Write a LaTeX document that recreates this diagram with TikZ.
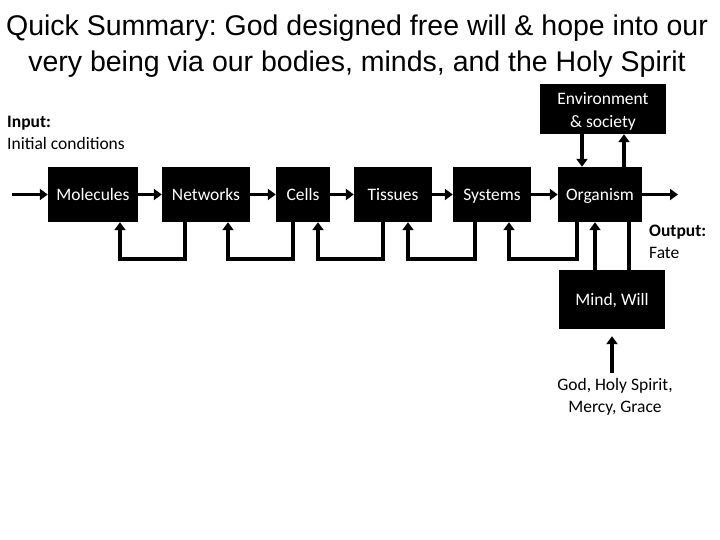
\documentclass[tikz,border=0pt]{standalone}
\usepackage{fontspec}
\setmainfont{Carlito}
\newfontfamily\titlefont{Liberation Sans}
\usetikzlibrary{arrows.meta}
\frenchspacing
\tikzset{
  blkbase/.style={fill=black,text=white,inner sep=0pt,font=\fontsize{17.5}{23}\selectfont,align=center},
  blk/.style={blkbase,minimum height=55pt,text height=14pt,text depth=2pt},
  arr/.style={line width=3.5pt,-{Triangle[length=8pt,width=11pt]}},
  ln/.style={line width=3.5pt},
  lbl/.style={inner sep=0pt,font=\fontsize{17.5}{21.5}\selectfont}
}
\begin{document}
\begin{tikzpicture}[x=1pt,y=-1pt]
\useasboundingbox (0,0) rectangle (720,540);
\node[inner sep=0pt,align=center,font=\titlefont\fontsize{28.5}{36}\selectfont] (title) at (357,46)
  {Quick Summary: God designed free will \& hope into our\\very being via our bodies, minds, and the Holy Spirit};
\node[lbl,anchor=west,align=left] (input) at (7,133) {\textbf{Input:}\\Initial conditions};
\node[lbl,anchor=west,align=left] (output) at (649,242) {\textbf{Output:}\\Fate};
\node[blk,minimum width=90pt] (mol) at (93,194.5) {Molecules};
\node[blk,minimum width=88pt] (net) at (206,194.5) {Networks};
\node[blk,minimum width=54pt] (cel) at (303,194.5) {Cells};
\node[blk,minimum width=78pt] (tis) at (393,194.5) {Tissues};
\node[blk,minimum width=78pt] (sys) at (492,194.5) {Systems};
\node[blk,minimum width=84pt] (org) at (600,194.5) {Organism};
\node[blkbase,minimum width=126pt,minimum height=50pt,text height=41pt,text depth=4pt] (env) at (603,109) {Environment\\\& society};
\node[blk,minimum width=106pt,minimum height=59pt] (mind) at (612,299.5) {Mind, Will};
\node[lbl,align=center] (god) at (615,397) {God, Holy Spirit,\\Mercy, Grace};
\coordinate (in) at (12,194.5);
\coordinate (out) at (678,194.5);
% forward chain
\draw[arr] (in) -- (mol.west);
\draw[arr] (mol.east) -- (net.west);
\draw[arr] (net.east) -- (cel.west);
\draw[arr] (cel.east) -- (tis.west);
\draw[arr] (tis.east) -- (sys.west);
\draw[arr] (sys.east) -- (org.west);
\draw[arr] (org.east) -- (out);
% feedback loops
\draw[arr] ([xshift=-21pt]net.south) -- ++(0,37) -| ([xshift=27pt]mol.south);
\draw[arr] ([xshift=-10pt]cel.south) -- ++(0,37) -| ([xshift=22pt]net.south);
\draw[arr] ([xshift=-10pt]tis.south) -- ++(0,37) -| ([xshift=15pt]cel.south);
\draw[arr] ([xshift=-17pt]sys.south) -- ++(0,37) -| ([xshift=15pt]tis.south);
\draw[arr] ([xshift=-23pt]org.south) -- ++(0,37) -| ([xshift=17pt]sys.south);
% environment
\draw[arr] ([xshift=-21pt]env.south) -- ([xshift=-21pt]env.south |- org.north);
\draw[arr] ([xshift=21pt]env.south |- org.north) -- ([xshift=21pt]env.south);
% mind
\draw[arr] ([xshift=-17pt]mind.north) -- ([xshift=-17pt]mind.north |- org.south);
\draw[ln] ([xshift=17pt]mind.north |- org.south) -- ([xshift=17pt]mind.north);
\draw[arr,shorten >=7pt] ([yshift=6pt]god.north -| mind.south) -- (mind.south);
\end{tikzpicture}
\end{document}
